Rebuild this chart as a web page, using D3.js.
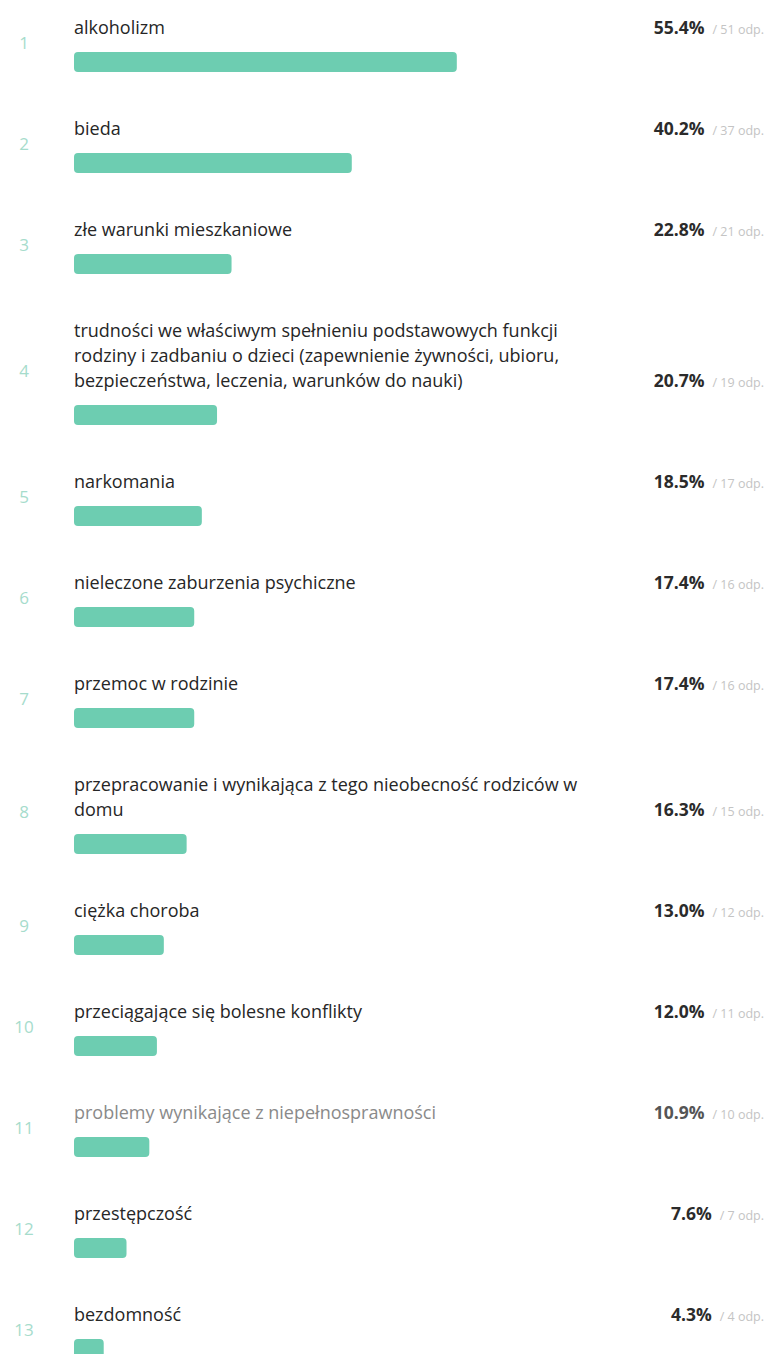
<!DOCTYPE html>
<html>
<head>
<meta charset="utf-8">
<script src="https://cdn.jsdelivr.net/npm/d3@7"></script>
<style>
  body { margin: 0; background: #fff; }
  svg { display: block; }
</style>
</head>
<body>
<div id="chart"></div>
<script>
const labels = [
  ["alkoholizm"],
  ["bieda"],
  ["złe warunki mieszkaniowe"],
  ["trudności we właściwym spełnieniu podstawowych funkcji",
   "rodziny i zadbaniu o dzieci (zapewnienie żywności, ubioru,",
   "bezpieczeństwa, leczenia, warunków do nauki)"],
  ["narkomania"],
  ["nieleczone zaburzenia psychiczne"],
  ["przemoc w rodzinie"],
  ["przepracowanie i wynikająca z tego nieobecność rodziców w", "domu"],
  ["ciężka choroba"],
  ["przeciągające się bolesne konflikty"],
  ["problemy wynikające z niepełnosprawności"],
  ["przestępczość"],
  ["bezdomność"]
];
const percents = [55.4, 40.2, 22.8, 20.7, 18.5, 17.4, 17.4, 16.3, 13.0, 12.0, 10.9, 7.6, 4.3];
const counts = [51, 37, 21, 19, 17, 16, 16, 15, 12, 11, 10, 7, 4];

const width = 766, height = 1354;
const barH = 20, lineH = 25, rowStep = 101;

const svg = d3.select("#chart").append("svg")
  .attr("width", width)
  .attr("height", height);

const x = d3.scaleLinear().domain([0, 100]).range([74, 765]);

// bar centre of each row, stacked; extra label lines push the row down
let acc = 62;
const rows = labels.map((lines, i) => {
  if (i > 0) acc += rowStep + lineH * (lines.length - 1);
  return {i, lines, pct: percents[i], n: counts[i], yb: acc};
});

const g = svg.selectAll("g.row")
  .data(rows)
  .enter().append("g")
  .attr("class", "row");

g.append("rect")
  .attr("x", x(0))
  .attr("y", d => d.yb - barH / 2)
  .attr("width", d => x(d.pct) - x(0))
  .attr("height", barH)
  .attr("rx", 4)
  .style("fill", "#6dcdb1");

// label lines, last line sits above the bar
g.each(function(d) {
  const last = d.yb - 34;
  d3.select(this).selectAll("text.lbl")
    .data(d.lines)
    .enter().append("text")
    .attr("class", "lbl")
    .attr("x", x(0))
    .attr("y", (t, k) => last - (d.lines.length - 1 - k) * lineH)
    .attr("dy", "0.35em")
    .style("font-family", "'Open Sans', sans-serif")
    .style("font-size", "18px")
    .style("fill", d.i === 10 ? "#8a8a8a" : "#262626");
});
g.selectAll("text.lbl").text(t => t);

g.append("text")
  .attr("x", 24)
  .attr("y", d => {
    const first = d.yb - 34 - (d.lines.length - 1) * lineH;
    return (first + d.yb) / 2 - 2;
  })
  .attr("dy", "0.35em")
  .attr("text-anchor", "middle")
  .style("font-family", "'Open Sans', sans-serif")
  .style("font-size", "17px")
  .style("fill", "#a6dccc")
  .text(d => d.i + 1);

const val = g.append("text")
  .attr("x", 764)
  .attr("y", d => d.yb - 34)
  .attr("dy", "0.35em")
  .attr("text-anchor", "end")
  .style("font-family", "'Open Sans', sans-serif");

val.append("tspan")
  .style("font-size", "17.5px")
  .style("font-weight", "bold")
  .style("fill", d => d.i === 10 ? "#555" : "#2b2b2b")
  .text(d => d.pct.toFixed(1) + "%");

val.append("tspan")
  .attr("dx", 8)
  .style("font-size", "12.5px")
  .style("fill", "#c4c4c4")
  .text(d => "/ " + d.n + " odp.");
</script>
</body>
</html>
